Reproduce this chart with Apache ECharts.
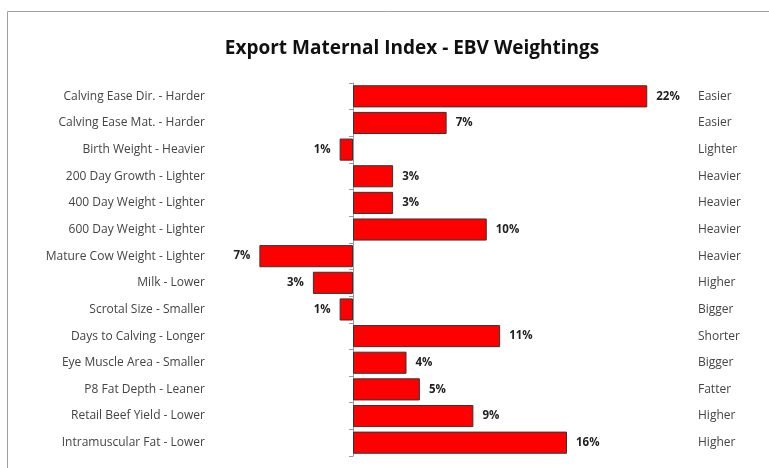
<!DOCTYPE html>
<html lang="en">
<head>
    <meta charset="UTF-8">
    <title>Export Maternal Index</title>
    <style>
        html, body { margin: 0; padding: 0; background: #fff; }
        #main { width: 769px; height: 468px; }
    </style>
</head>
<body>
<div id="main"></div>
<script src="https://cdn.jsdelivr.net/npm/echarts@6/dist/echarts.min.js"></script>
<script>
    var traits = ['Calving Ease Dir. - Harder', 'Calving Ease Mat. - Harder', 'Birth Weight - Heavier',
        '200 Day Growth - Lighter', '400 Day Weight - Lighter', '600 Day Weight - Lighter',
        'Mature Cow Weight - Lighter', 'Milk - Lower', 'Scrotal Size - Smaller', 'Days to Calving - Longer',
        'Eye Muscle Area - Smaller', 'P8 Fat Depth - Leaner', 'Retail Beef Yield - Lower', 'Intramuscular Fat - Lower'];
    var favourable = ['Easier', 'Easier', 'Lighter', 'Heavier', 'Heavier', 'Heavier', 'Heavier',
        'Higher', 'Bigger', 'Shorter', 'Bigger', 'Fatter', 'Higher', 'Higher'];
    var weights = [22, 7, -1, 3, 3, 10, -7, -3, -1, 11, 4, 5, 9, 16];

    var font = 'Open Sans';
    var chart = echarts.init(document.getElementById('main'));

    var barData = weights.map(function (v) {
        return {
            value: v,
            label: {position: v < 0 ? 'left' : 'right'}
        };
    });

    chart.setOption({
        animation: false,
        title: {
            text: 'Export Maternal Index - EBV Weightings',
            left: 407,
            textAlign: 'center',
            top: 34,
            textStyle: {fontFamily: font, fontWeight: 'bold', fontSize: 19, color: '#111'}
        },
        graphic: [{
            type: 'rect',
            shape: {x: 7.5, y: 11.5, width: 800, height: 500},
            style: {fill: 'none', stroke: '#a0a0a0', lineWidth: 1}
        }],
        grid: {left: 246, width: 428, top: 83, height: 373},
        xAxis: {
            type: 'value', min: -8, max: 24, show: false
        },
        yAxis: [
            {
                type: 'category', data: traits, inverse: true, position: 'left',
                axisLine: {show: false, onZero: false}, axisTick: {show: false},
                axisLabel: {margin: 41, fontFamily: font, fontSize: 12, color: '#444'}
            },
            {
                type: 'category', data: favourable, inverse: true, position: 'right',
                axisLine: {show: false, onZero: false}, axisTick: {show: false},
                axisLabel: {margin: 24, align: 'left', fontFamily: font, fontSize: 12, color: '#444'}
            },
            {
                type: 'category', data: traits, inverse: true, position: 'left',
                axisLine: {show: true, onZero: true, onZeroAxisIndex: 0, lineStyle: {color: '#999'}},
                axisTick: {show: true, length: 4, lineStyle: {color: '#999'}},
                axisLabel: {show: false}
            }
        ],
        series: [{
            type: 'bar',
            yAxisIndex: 0,
            data: barData,
            barCategoryGap: '17%',
            itemStyle: {color: '#ff0000', borderColor: '#333', borderWidth: 1},
            label: {
                show: true,
                distance: 9,
                fontFamily: font, fontSize: 11.5, fontWeight: 'bold', color: '#222',
                formatter: function (p) { return Math.abs(p.value) + '%'; }
            }
        }]
    });
</script>
</body>
</html>
